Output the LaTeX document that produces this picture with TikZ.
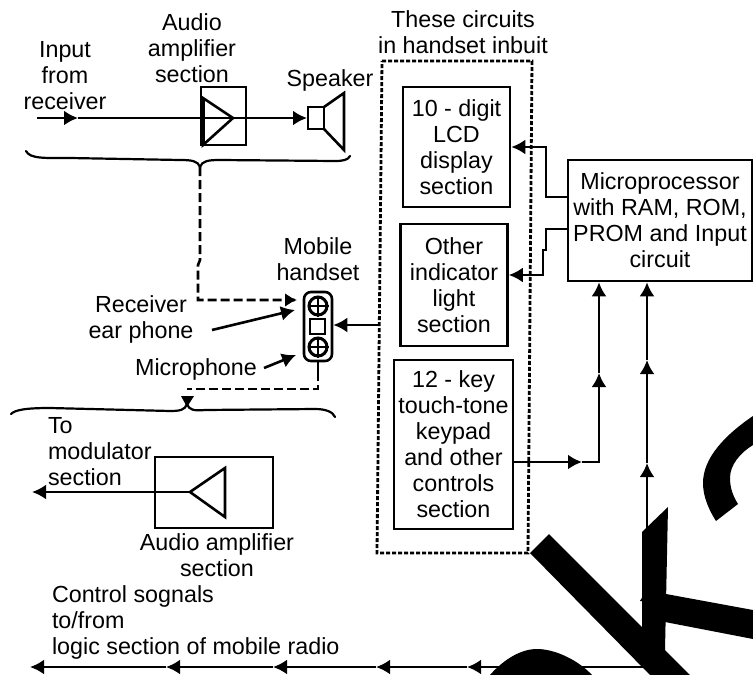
\documentclass[tikz,border=0pt]{standalone}
\usepackage{fontspec}
\setmainfont{Liberation Sans}
\usetikzlibrary{arrows.meta}
\tikzset{
  lbl/.style={inner sep=0pt,outer sep=0pt,align=center,font=\fontsize{23.3}{26}\selectfont},
  lbll/.style={lbl,align=left,anchor=west},
  blockbox/.style={draw,line width=2.6pt,inner sep=0pt,align=center,font=\fontsize{23.3}{26}\selectfont},
  wire/.style={line width=2.6pt},
  arr/.style={wire,-{Latex[length=14pt,width=15pt]}},
  dashline/.style={line width=2.6pt,dash pattern=on 9pt off 4pt},
  dotline/.style={line width=2.8pt,dash pattern=on 4pt off 2pt},
  bracewire/.style={line width=2.2pt,line cap=round},
  wm/.style={fill=black,draw=none}
}
\newcommand{\boxat}[6]{\node[blockbox,minimum width=#4 pt,minimum height=#5 pt] (#1) at (#2,#3) {#6};}
\begin{document}
\begin{tikzpicture}[x=1pt,y=-1pt]
\useasboundingbox (0,0) rectangle (753,675);
\fill[white] (0,0) rectangle (753,675);
% labels
\node[lbl] (inp) at (65,76) {Input\\from\\receiver};
\node[lbl] (audiotop) at (192,48) {Audio\\amplifier\\section};
\node[lbl] (spk) at (330,80) {Speaker};
\node[lbl] (mob) at (318,259) {Mobile\\handset};
\node[lbl] (rec) at (141,319) {Receiver\\ear phone};
\node[lbl] (mic) at (196,369) {Microphone};
\node[lbll] (tomod) at (48,452) {To\\modulator\\section};
\node[lbl] (audiobot) at (217,555) {Audio amplifier\\section};
\node[lbll] (ctl) at (52,622) {Control sognals\\to/from\\logic section of mobile radio};
\node[lbl] (circ) at (463,32) {These circuits\\in handset inbuit};
% container
\coordinate (ca) at (382,61); \coordinate (cb) at (532,61);
\coordinate (cc) at (528,553); \coordinate (cd) at (377,553);
\draw[dotline] (ca) -- (cb) -- (cc) -- (cd) -- cycle;
% boxes
\boxat{lcd}{456.5}{147}{107}{120}{10 - digit\\LCD\\display\\section}
\boxat{oth}{454}{285}{107}{122}{Other\\indicator\\light\\section}
\boxat{key}{453.5}{444.5}{119}{169}{12 - key\\touch-tone\\keypad\\and other\\controls\\section}
\boxat{mpu}{660}{220.5}{184}{121}{Microprocessor\\with RAM, ROM,\\PROM and Input\\circuit}
\boxat{ampt}{223.5}{116}{45}{58}{}
\boxat{ampb}{214}{492.5}{118}{71}{}
% top chain
\coordinate (in) at (37,118); \coordinate (inm) at (78,118);
\coordinate (spktip) at (307,118);
\node[draw,line width=2.6pt,inner sep=0pt,minimum width=16pt,minimum height=22pt] (spkbox) at (316,118) {};
\draw[wire,line join=miter] (324,107) -- (344,93) -- (344,150) -- (324,129);
\draw[arr] (in) -- (inm);
\draw[arr] (inm) -- (spktip);
\draw[wire] (203,98) -- (233,118) -- (203,145) -- cycle;
\draw[line width=3.4pt] (203,98) -- (203,145);
% top brace
\coordinate (bt) at (200,167);
\draw[bracewire] (26,151) .. controls (30,159) and (45,158) .. (70,158) -- (180,160)
  .. controls (192,160) and (198,161) .. (bt)
  .. controls (202,161) and (208,160) .. (220,160) -- (335,161)
  .. controls (343,161) and (348,160) .. (350,156);
% handset
\node[draw,line width=2.6pt,rounded corners=7pt,inner sep=0pt,minimum width=28pt,minimum height=69pt] (hs) at (318,326.5) {};
\node[draw,line width=2.6pt,inner sep=0pt,minimum width=15pt,minimum height=15pt] (hsq) at (317.5,326.5) {};
\node[draw,line width=3pt,circle,inner sep=0pt,minimum size=18pt] (ep) at (318,306) {};
\node[draw,line width=3pt,circle,inner sep=0pt,minimum size=18pt] (mp) at (318,347) {};
\foreach \n in {ep,mp}{
  \draw[line width=1.4pt] (\n.north) -- (\n.south);
  \draw[line width=1.4pt] (\n.west) -- (\n.east);
}
% dashed links
\coordinate (d1) at (200,260); \coordinate (d2) at (198,265); \coordinate (d3) at (198,300); \coordinate (d4) at (297,300);
\draw[dashline] (bt) -- (d1) -- (d2) -- (d3) -- (d4);
\draw[-{Latex[length=12pt,width=14pt]},line width=2.6pt] (285,300) -- (d4);
\coordinate (m1) at (318,389); \coordinate (m2) at (187,389);
\draw[wire] (hs.south) -- (318,372);
\draw[dashline] (318,372) -- (m1) -- (m2);
% lower brace
\coordinate (bb) at (187,404);
\draw[bracewire] (11,414) .. controls (15,410) and (25,408) .. (50,408) -- (170,411)
  .. controls (180,411) and (185,410) .. (bb)
  .. controls (189,410) and (194,411) .. (205,410) -- (315,409)
  .. controls (326,409) and (333,412) .. (335,417);
\coordinate (btop) at (187,396);
\fill (181,396) -- (194,396) -- (187,407) -- cycle;
% handset pointers
\coordinate (r0) at (212,330); \coordinate (r1) at (295,310);
\draw[arr] (r0) -- (r1);
\coordinate (m0) at (264,368); \coordinate (m3) at (296,355);
\draw[arr] (m0) -- (m3);
\coordinate (cin) at (380,325);
\draw[arr] (cin) -- (hs.east|-cin);
% bottom amplifier
\coordinate (ap) at (190,492); \coordinate (modt) at (32,492);
\draw[wire,line join=miter] (225,468) -- (ap) -- (225,517) -- cycle;
\draw[arr] (ap) -- (modt);
% microprocessor outputs
\coordinate (o1) at (546,197); \coordinate (o2) at (546,147); \coordinate (o3) at (510,147);
\draw[arr] (mpu.west|-o1) -- (o1) -- (o2) -- (lcd.east|-o2);
\coordinate (o4) at (546,229); \coordinate (o5) at (546,250); \coordinate (o6) at (543,250); \coordinate (o7) at (543,275);
\draw[arr] (mpu.west|-o4) -- (o4) -- (o5) -- (o6) -- (o7) -- (oth.east|-o7);
% keypad to mpu
\coordinate (k1) at (582,462); \coordinate (k2) at (599,462); \coordinate (k3) at (599,373);
\draw[arr] (key.east|-k1) -- (k1);
\draw[arr] (k1) -- (k2) -- (k3);
\draw[arr] (k3) -- (k2|-mpu.south);
% control bus
\coordinate (b0) at (647,667); \coordinate (u1) at (647,587); \coordinate (u2) at (647,463); \coordinate (u3) at (647,360);
\draw[arr] (b0) -- (u1);
\draw[arr] (u1) -- (u2);
\draw[arr] (u2) -- (u3);
\draw[arr] (u3) -- (u3|-mpu.south);
\coordinate (l1) at (467,667); \coordinate (l2) at (376,667); \coordinate (l3) at (273,667); \coordinate (l4) at (166,667); \coordinate (l5) at (30,667);
\draw[arr] (b0) -- (l1);
\draw[arr] (l1) -- (l2);
\draw[arr] (l2) -- (l3);
\draw[arr] (l3) -- (l4);
\draw[arr] (l4) -- (l5);
% overprinted black shapes
\fill[wm] (642,532) -- (668,507) -- (665,650) -- (642,650) -- cycle;
\fill[wm] (666,594) -- (753,610) -- (753,639) -- (665,622) -- cycle;
\fill[wm] (530,553) -- (549,534) -- (690,675) -- (650,675) -- cycle;
\fill[wm] (490,675) .. controls (505,658) and (522,649) .. (537,649) .. controls (555,649) and (578,660) .. (592,675) -- cycle;
\fill[wm] (753,416) .. controls (725,435) and (703,458) .. (703,483) .. controls (703,497) and (709,510) .. (716,521) -- (738,504) .. controls (733,496) and (730,488) .. (730,478) .. controls (730,465) and (740,453) .. (753,445) -- cycle;
\end{tikzpicture}
\end{document}
